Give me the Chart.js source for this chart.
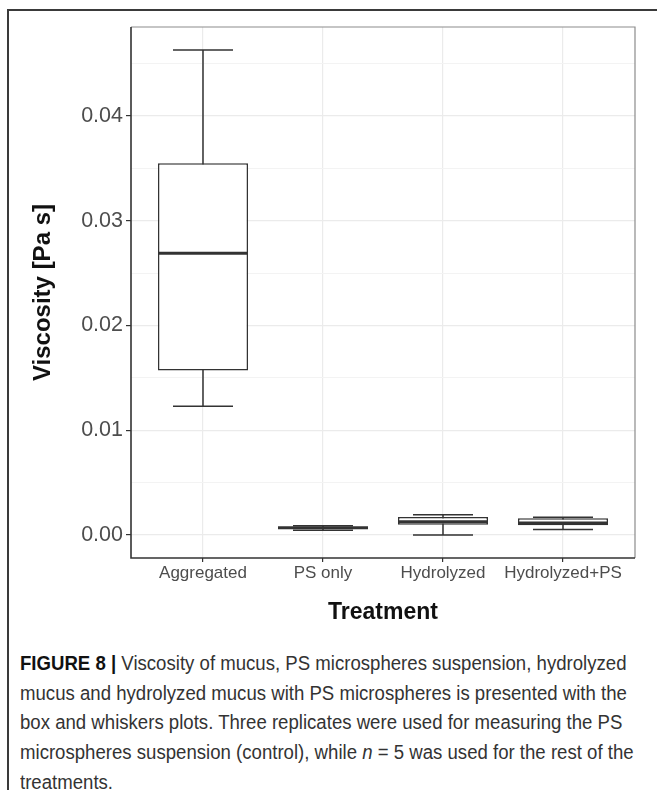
<!DOCTYPE html>
<html>
<head>
<meta charset="utf-8">
<script src="https://cdn.jsdelivr.net/npm/chart.js@4.4.1/dist/chart.umd.min.js"></script>
<style>
  body { margin: 0; background: #fff; width: 657px; height: 790px; overflow: hidden; position: relative; }
  #frame { position: absolute; left: 7px; top: 9px; right: -5px; bottom: -5px; border-left: 2px solid #3a3a3a; border-top: 2px solid #3a3a3a; }
  #wrap { position: absolute; left: 0; top: 0; width: 657px; height: 640px; }
  #caption { position: absolute; left: 20px; top: 649px; font-family: "Liberation Sans", Arial, sans-serif; font-size: 20px; color: #333; line-height: 29.7px; transform: scaleX(0.93); transform-origin: left top; }
  #caption div { white-space: nowrap; }
  #caption b { color: #111; }
</style>
</head>
<body>
<div id="frame"></div>
<div id="wrap"><canvas id="box"></canvas></div>
<div id="caption">
  <div><b>FIGURE 8 |</b> Viscosity of mucus, PS microspheres suspension, hydrolyzed</div>
  <div>mucus and hydrolyzed mucus with PS microspheres is presented with the</div>
  <div>box and whiskers plots. Three replicates were used for measuring the PS</div>
  <div>microspheres suspension (control), while <i>n</i> = 5 was used for the rest of the</div>
  <div>treatments.</div>
</div>
<script>
const categories = ['Aggregated', 'PS only', 'Hydrolyzed', 'Hydrolyzed+PS'];
const minVals = [0.0123, 0.00045, 0.0000, 0.00053];
const q1Vals = [0.0157, 0.00064, 0.00098, 0.00092];
const medians = [0.0269, 0.00069, 0.00127, 0.00115];
const q3Vals = [0.0355, 0.00074, 0.00172, 0.00159];
const maxVals = [0.0463, 0.00088, 0.00194, 0.00168];

const isMajor = v => Math.abs(Math.round(v * 200)) % 2 === 0;

// whiskers, caps, medians and the panel border
const boxExtras = {
  id: 'boxExtras',
  beforeDatasetsDraw(chart) {
    const {ctx, scales: {x, y}} = chart;
    ctx.save();
    ctx.strokeStyle = '#333';
    ctx.lineWidth = 1.5;
    categories.forEach((c, i) => {
      const cx = x.getPixelForValue(i);
      const l = x.getPixelForValue(i - 0.25), r = x.getPixelForValue(i + 0.25);
      ctx.beginPath();
      ctx.moveTo(cx, y.getPixelForValue(minVals[i]));
      ctx.lineTo(cx, y.getPixelForValue(maxVals[i]));
      [minVals[i], maxVals[i]].forEach(v => {
        const py = y.getPixelForValue(v);
        ctx.moveTo(l, py);
        ctx.lineTo(r, py);
      });
      ctx.stroke();
    });
    ctx.restore();
  },
  afterDatasetsDraw(chart) {
    const {ctx, scales: {x, y}} = chart;
    ctx.save();
    ctx.strokeStyle = '#333';
    ctx.lineWidth = 3;
    categories.forEach((c, i) => {
      const py = y.getPixelForValue(medians[i]);
      ctx.beginPath();
      ctx.moveTo(x.getPixelForValue(i - 0.375), py);
      ctx.lineTo(x.getPixelForValue(i + 0.375), py);
      ctx.stroke();
    });
    ctx.restore();
  },
  afterDraw(chart) {
    const {ctx, chartArea: a} = chart;
    ctx.save();
    ctx.lineWidth = 1.2;
    ctx.strokeStyle = '#8c8c8c';
    ctx.beginPath();
    ctx.moveTo(a.left, a.top); ctx.lineTo(a.right, a.top); ctx.lineTo(a.right, a.bottom);
    ctx.stroke();
    ctx.lineWidth = 1.6;
    ctx.strokeStyle = '#333';
    ctx.beginPath();
    ctx.moveTo(a.left, a.top); ctx.lineTo(a.left, a.bottom); ctx.lineTo(a.right, a.bottom);
    ctx.stroke();
    ctx.restore();
  }
};

new Chart(document.querySelector('#box'), {
  type: 'bar',
  data: {
    datasets: [{
      data: categories.map((c, i) => ({x: i, y: [q1Vals[i], q3Vals[i]]})),
      backgroundColor: '#ffffff',
      borderColor: '#333',
      borderWidth: 1.5,
      borderSkipped: false,
      categoryPercentage: 1,
      barPercentage: 0.75
    }]
  },
  options: {
    responsive: true,
    maintainAspectRatio: false,
    animation: false,
    layout: { padding: { top: 27, right: 22, left: 0, bottom: 0 } },
    plugins: { legend: { display: false }, tooltip: { enabled: false } },
    scales: {
      x: {
        type: 'linear',
        min: -0.6,
        max: 3.6,
        offset: false,
        afterFit: s => { s.height = 82; },
        border: { display: false },
        grid: { offset: false, color: '#ebebeb', lineWidth: 1.2, tickLength: 4, tickColor: '#333', tickWidth: 1.2 },
        ticks: {
          stepSize: 1,
          includeBounds: false,
          autoSkip: false,
          maxRotation: 0,
          padding: 1,
          color: '#4d4d4d',
          font: { family: 'Liberation Sans', size: 17 },
          callback: v => categories[v] ?? ''
        },
        title: {
          display: true,
          text: 'Treatment',
          color: '#111',
          font: { family: 'Liberation Sans', size: 23, weight: 'bold' },
          padding: { top: 0, bottom: 14 }
        }
      },
      y: {
        min: -0.0022,
        max: 0.0485,
        afterFit: s => { s.width = 131; },
        border: { display: false },
        grid: {
          color: c => isMajor(c.tick.value) ? '#ebebeb' : '#f3f3f3',
          lineWidth: c => isMajor(c.tick.value) ? 1.2 : 1,
          tickLength: 5,
          tickWidth: 1.2,
          tickColor: c => isMajor(c.tick.value) ? '#333' : 'rgba(0,0,0,0)'
        },
        ticks: {
          stepSize: 0.005,
          includeBounds: false,
          padding: 3,
          color: '#4d4d4d',
          font: { family: 'Liberation Sans', size: 21.5 },
          callback: v => isMajor(v) ? v.toFixed(2) : ''
        },
        title: {
          display: true,
          text: 'Viscosity [Pa s]',
          color: '#111',
          font: { family: 'Liberation Sans', size: 24, weight: 'bold' },
          padding: { top: 29, bottom: 0 }
        }
      }
    }
  },
  plugins: [boxExtras]
});
</script>
</body>
</html>
